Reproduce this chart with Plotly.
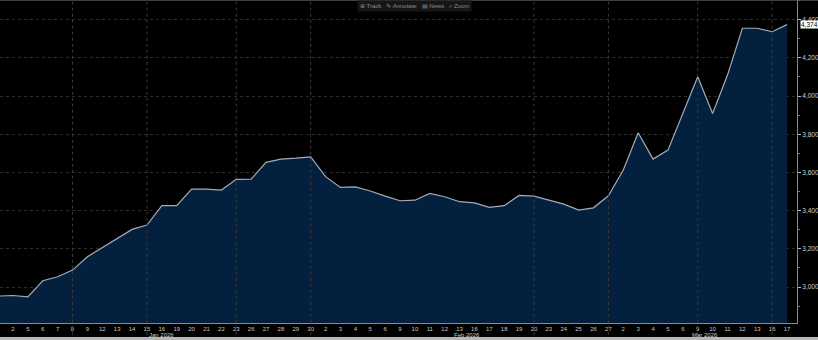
import plotly.graph_objects as go

# ---- data ----
dates = [
    "2025-12-31",
    "2026-01-02", "2026-01-05", "2026-01-06", "2026-01-07", "2026-01-08", "2026-01-09",
    "2026-01-12", "2026-01-13", "2026-01-14", "2026-01-15", "2026-01-16",
    "2026-01-19", "2026-01-20", "2026-01-21", "2026-01-22", "2026-01-23",
    "2026-01-26", "2026-01-27", "2026-01-28", "2026-01-29", "2026-01-30",
    "2026-02-02", "2026-02-03", "2026-02-04", "2026-02-05", "2026-02-06",
    "2026-02-09", "2026-02-10", "2026-02-11", "2026-02-12", "2026-02-13",
    "2026-02-16", "2026-02-17", "2026-02-18", "2026-02-19", "2026-02-20",
    "2026-02-23", "2026-02-24", "2026-02-25", "2026-02-26", "2026-02-27",
    "2026-03-02", "2026-03-03", "2026-03-04", "2026-03-05", "2026-03-06",
    "2026-03-09", "2026-03-10", "2026-03-11", "2026-03-12", "2026-03-13",
    "2026-03-16", "2026-03-17",
]
values = [
    2953,
    2956, 2949, 3033, 3054, 3089, 3159,
    3208, 3257, 3302, 3325, 3426,
    3426, 3513, 3513, 3508, 3564,
    3565, 3653, 3670, 3675, 3682,
    3578, 3522, 3525, 3503, 3476,
    3452, 3455, 3490, 3473, 3447,
    3441, 3417, 3426, 3480, 3476,
    3455, 3434, 3403, 3415, 3478,
    3613, 3808, 3670, 3717, 3905,
    4101, 3909, 4110, 4355, 4355,
    4337, 4374,
]
grid_dates = ["2026-01-08", "2026-01-15", "2026-01-23", "2026-01-30",
              "2026-02-20", "2026-02-27", "2026-03-09", "2026-03-16"]
month_names = {"01": "Jan 2026", "02": "Feb 2026", "03": "Mar 2026"}
y_ticks = [3000, 3200, 3400, 3600, 3800, 4000, 4200, 4400]
last_label = "4,374"

# ---- build ----
idx = list(range(-1, len(dates) - 1))  # leading point sits just left of the plot
pos = dict(zip(dates, idx))
tick_pos = idx[1:]
tick_txt = [str(int(d[8:])) for d in dates[1:]]

fig = go.Figure()
fig.add_trace(go.Scatter(
    x=idx, y=values, mode="lines", fill="tozeroy",
    line=dict(color="#a4acb6", width=1.2),
    fillcolor="#04203f", hoverinfo="skip",
))

shapes = []
for d in grid_dates:
    shapes.append(dict(type="line", xref="x", yref="paper", x0=pos[d], x1=pos[d],
                       y0=-0.055, y1=1, line=dict(color="#3a3a3a", width=1, dash="dot"),
                       layer="above"))
# top frame line
shapes.append(dict(type="line", xref="paper", yref="paper", x0=0, x1=1.03, y0=1, y1=1,
                   line=dict(color="#555555", width=1.5)))
# bottom light strip
shapes.append(dict(type="rect", xref="paper", yref="paper", x0=0, x1=1.03,
                   y0=-17 / 323, y1=-14 / 323, line=dict(width=0), fillcolor="#b8b8b8"))

annotations = []
months = {}
for d, i in zip(dates[1:], idx[1:]):
    months.setdefault(d[5:7], []).append(i)
for m, lst in months.items():
    annotations.append(dict(x=sum(lst) / len(lst), y=-0.037, xref="x", yref="paper",
                            text=month_names[m], showarrow=False, yanchor="middle",
                            font=dict(size=6, color="#c8c8c8", family="Liberation Sans")))
annotations.append(dict(x=1, y=values[-1], xref="paper", yref="y", xanchor="left",
                        xshift=3, text=last_label, showarrow=False, bgcolor="#ffffff",
                        borderpad=0, font=dict(size=6.5, color="#000000", family="Liberation Sans")))
annotations.append(dict(x=0.52, y=1, xref="paper", yref="paper", yanchor="top",
                        text="⊕ Track   ✎ Annotate   ▤ News   ⌕ Zoom", showarrow=False,
                        bgcolor="#161616", borderpad=2,
                        font=dict(size=6, color="#7f8ea3", family="Liberation Sans")))

fig.update_layout(
    width=818, height=340,
    margin=dict(l=0, r=21, t=0, b=17),
    paper_bgcolor="#000000", plot_bgcolor="#000000",
    showlegend=False,
    shapes=shapes, annotations=annotations,
    xaxis=dict(range=[-0.873, 52.67], tickvals=tick_pos, ticktext=tick_txt,
               showgrid=False, zeroline=False, showline=True, linecolor="#8a8a8a",
               linewidth=1, ticks="", tickangle=0,
               tickfont=dict(size=6, color="#c8c8c8", family="Liberation Sans")),
    yaxis=dict(range=[2812, 4503], side="right", tickvals=y_ticks,
               ticktext=[f"{v:,}" for v in y_ticks],
               showgrid=True, gridcolor="#2e2e2e", griddash="dot", gridwidth=1,
               zeroline=False, showline=True, linecolor="#8a8a8a", linewidth=1,
               ticks="outside", ticklen=3, tickcolor="#bbbbbb",
               minor=dict(ticks="outside", ticklen=2, tickcolor="#777777", dtick=100,
                          showgrid=False),
               tickfont=dict(size=6.5, color="#d0d0d0", family="Liberation Sans")),
)

fig.write_html("out.html")
